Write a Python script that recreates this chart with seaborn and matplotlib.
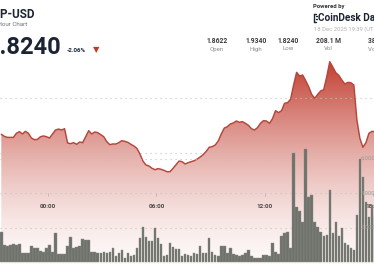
import numpy as np
import pandas as pd
import matplotlib
matplotlib.use("Agg")
import matplotlib.pyplot as plt
import matplotlib.transforms as mtransforms
import matplotlib.dates as mdates
from matplotlib.lines import Line2D
import seaborn as sns

# ---------------- data ----------------
price = [
    1.8670, 1.8652, 1.8642, 1.8642, 1.8642, 1.8679, 1.8694, 1.8673, 1.8697, 1.8679,
    1.8636, 1.8621, 1.8624, 1.8648, 1.8655, 1.8648, 1.8636, 1.8673, 1.8709, 1.8718,
    1.8709, 1.8721, 1.8591, 1.8585, 1.8594, 1.8579, 1.8600, 1.8594, 1.8648, 1.8703,
    1.8673, 1.8691, 1.8685, 1.8667, 1.8648, 1.8603, 1.8576, 1.8582, 1.8582, 1.8594,
    1.8612, 1.8606, 1.8597, 1.8579, 1.8564, 1.8542, 1.8491, 1.8427, 1.8391, 1.8382,
    1.8361, 1.8348, 1.8358, 1.8352, 1.8342, 1.8330, 1.8330, 1.8361, 1.8394, 1.8427,
    1.8421, 1.8400, 1.8412, 1.8421, 1.8430, 1.8445, 1.8464, 1.8485, 1.8515, 1.8552,
    1.8558, 1.8573, 1.8609, 1.8673, 1.8727, 1.8739, 1.8764, 1.8773, 1.8791, 1.8779,
    1.8785, 1.8770, 1.8752, 1.8721, 1.8709, 1.8730, 1.8770, 1.8794, 1.8791, 1.8770,
    1.8812, 1.8885, 1.8867, 1.8885, 1.8952, 1.8958, 1.8988, 1.9118, 1.9233, 1.9200,
    1.9209, 1.9158, 1.9103, 1.9033, 1.8997, 1.9033, 1.9064, 1.9076, 1.9194, 1.9330,
    1.9282, 1.9230, 1.9206, 1.9164, 1.9127, 1.9142, 1.9139, 1.9118, 1.8800, 1.8633,
    1.8552, 1.8594, 1.8679, 1.8697, 1.8694,
]
volume_m = [
    1.77, 0.97, 0.91, 1.01, 1.05, 1.00, 1.03, 0.53, 0.50, 0.53,
    0.95, 0.82, 0.82, 0.65, 0.57, 0.82, 1.01, 0.61, 1.71, 0.44,
    0.44, 0.46, 0.95, 1.45, 0.82, 0.88, 0.95, 1.33, 1.26, 1.26,
    0.61, 0.57, 0.55, 0.53, 0.59, 0.53, 0.61, 0.82, 0.34, 0.50,
    0.72, 0.25, 0.53, 0.34, 0.38, 0.82, 1.39, 2.06, 1.43, 1.20,
    1.20, 1.96, 1.39, 1.07, 0.34, 0.38, 1.12, 0.88, 0.76, 0.78,
    0.34, 0.44, 0.40, 0.34, 0.53, 0.44, 0.91, 0.50, 0.50, 1.39,
    0.61, 0.38, 0.34, 0.95, 0.91, 0.50, 0.82, 0.44, 0.42, 0.34,
    0.42, 0.53, 0.69, 0.34, 0.25, 0.23, 0.23, 0.42, 0.42, 0.34,
    1.10, 0.57, 0.44, 1.50, 1.68, 1.77, 0.80, 6.34, 3.20, 2.97,
    2.34, 6.53, 3.77, 3.87, 2.34, 2.06, 1.77, 1.49, 1.58, 4.15,
    1.68, 2.34, 1.49, 1.96, 1.10, 1.01, 0.82, 0.72, 2.72, 5.96,
    4.91, 3.49, 2.63, 3.30, 2.74,
]
times = pd.date_range("2025-12-17 21:25", periods=len(price), freq="10min")
tick_times = pd.to_datetime(["2025-12-18 00:00", "2025-12-18 06:00",
                             "2025-12-18 12:00", "2025-12-18 18:00"])
tick_labels = ["00:00", "06:00", "12:00", "18:00"]
price_grid = [1.90, 1.85]
vol_grid = [2e6, 4e6, 6e6]
vol_grid_labels = ["2,000,000", "4,000,000", "6,000,000"]

stat_values = ["1.8622", "1.9340", "1.8240", "208.1 M", "389.9 M"]
stat_names = ["Open", "High", "Low", "Vol", "Vol (USD)"]

df = pd.DataFrame({"time": times, "price": price,
                   "volume": np.array(volume_m) * 1e6})

# ---------------- figure ----------------
sns.set_theme(style="white")
plt.rcParams["font.family"] = ["Roboto", "DejaVu Sans"]

W, H = 374, 264
fig = plt.figure(figsize=(W / 100, H / 100), dpi=100)
fig.patch.set_facecolor("white")


def fx(x):
    return x / W


def fy(y):
    return 1 - y / H


ax = fig.add_axes([0, 0, 1, 1])
ax2 = ax.twinx()

xlim = (pd.Timestamp("2025-12-17 21:20:42"), pd.Timestamp("2025-12-18 18:01:48"))
pmin, pmax = 1.7491, 1.98909

# gradient fill under price line
ny = 264
ypx = np.arange(ny) + 0.5
f = np.clip((ypx - 60) / 204, 0, 1)
alpha = 0.95 * (1 - f) ** 1.5 + 0.035
grad = np.zeros((ny, 1, 4))
grad[..., 0] = 192 / 255
grad[..., 1] = 57 / 255
grad[..., 2] = 43 / 255
grad[..., 3] = alpha[:, None]
poly = ax.fill_between(df["time"], df["price"], pmin, color="none", lw=0)
x0n, x1n = mdates.date2num(xlim[0]), mdates.date2num(xlim[1])
im = ax.imshow(grad, extent=[x0n, x1n, pmin, pmax], origin="upper",
               aspect="auto", zorder=1)
im.set_clip_path(poly.get_paths()[0], transform=ax.transData)

# grid lines
for g in price_grid:
    ax.axhline(g, color="#c8c2c2", lw=0.8, ls=(0, (1, 3.5)), zorder=2)
for g in vol_grid:
    ax2.axhline(g, color="#c8c2c2", lw=0.8, ls=(0, (1, 3.5)), zorder=2)

# price line
sns.lineplot(data=df, x="time", y="price", ax=ax, color="#b5463c", lw=1.05,
             zorder=3)

# volume bars
bw = pd.Timedelta("10min") / pd.Timedelta("1D") * 0.82
ax2.bar(mdates.date2num(df["time"]), df["volume"], width=bw,
        color="#6f726a", edgecolor="#8a8d86", lw=0.3, zorder=4)

for a in (ax, ax2):
    a.set_xlim(*xlim)
    a.set_axis_off()
ax.set_ylim(pmin, pmax)
ax2.set_ylim(-0.114e6, 15.2e6)

# volume axis labels
bt2 = mtransforms.blended_transform_factory(ax2.transAxes, ax2.transData)
for g, lab in zip(vol_grid, vol_grid_labels):
    ax2.text(361 / W, g, lab, transform=bt2, fontsize=4.3, color="#a09a9a",
             ha="left", va="center", zorder=6)

# time ticks and labels
bt = mtransforms.blended_transform_factory(ax.transData, ax.transAxes)
for t, lab in zip(tick_times, tick_labels):
    ax.plot([t, t], [fy(196), fy(193)], transform=bt, color="#bbbbbb",
            lw=0.6, zorder=5)
    ax.text(t, fy(207.5), lab, transform=bt, fontsize=4.6, fontweight="bold",
            color="#4a4a4a", ha="center", va="baseline", zorder=6)

# ---------------- header text ----------------
navy = "#1c2434"
fig.text(fx(35), fy(17.5), "XRP-USD", fontsize=8.5, fontweight="bold",
         color=navy, ha="right", va="baseline")
fig.text(fx(27), fy(26), "24 Hour Chart", fontsize=4.5, color="#6b7280",
         ha="right", va="baseline")
fig.text(fx(61), fy(53.5), "1.8240", fontsize=17, fontweight="bold",
         color=navy, ha="right", va="baseline")
fig.text(fx(67), fy(52), "-2.06%", fontsize=4.4, fontweight="bold",
         color=navy, ha="left", va="baseline")
fig.text(fx(92.5), fy(52.5), "▼", fontsize=6, color="#c0392b",
         ha="left", va="baseline", family=["DejaVu Sans"])

fig.text(fx(313), fy(8), "Powered by", fontsize=4.2, fontweight="bold",
         color="#333333", ha="left", va="baseline")
# small logo mark
for (xa, ya, xb, yb) in [(313.5, 13.5, 313.5, 21.5), (313.5, 13.5, 316, 13.5),
                         (313.5, 21.5, 316, 21.5), (316, 16, 316.8, 16),
                         (316, 19, 316.8, 19)]:
    fig.add_artist(Line2D([fx(xa), fx(xb)], [fy(ya), fy(yb)],
                          transform=fig.transFigure, color=navy, lw=1.0))
fig.text(fx(318.5), fy(21), "CoinDesk Data", fontsize=7.2, fontweight="bold",
         color=navy, ha="left", va="baseline")
fig.text(fx(314), fy(31), "18 Dec 2025 19:39 (UTC)", fontsize=4.2,
         color="#b3b3b3", ha="left", va="baseline")

stat_x = [216.7, 255.7, 288.3, 328.3, 381.0]
for x, v, n in zip(stat_x, stat_values, stat_names):
    fig.text(fx(x), fy(43), v, fontsize=4.9, fontweight="bold",
             color="#3a3a3a", ha="center", va="baseline")
    fig.text(fx(x), fy(50.5), n, fontsize=4.4, color="#8a8a8a",
             ha="center", va="baseline")

fig.savefig("out.png", dpi=100, facecolor="white")
